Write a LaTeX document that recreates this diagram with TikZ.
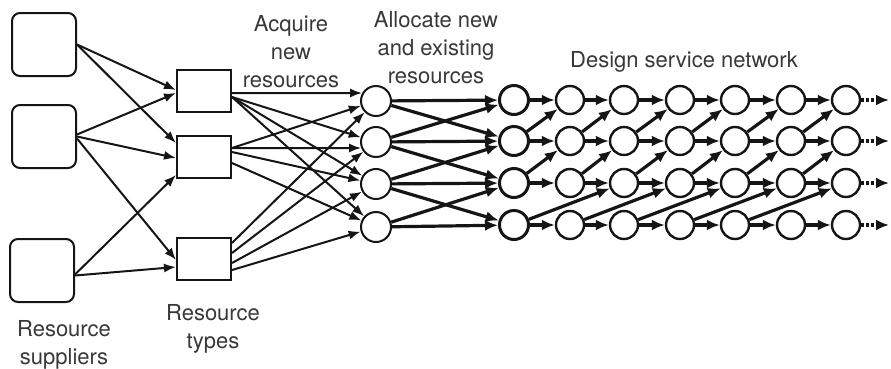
\documentclass[tikz,border=0pt]{standalone}
\usepackage{fontspec}
\setmainfont{TeX Gyre Heros}
\usetikzlibrary{arrows.meta,calc}
\definecolor{ink}{HTML}{151515}
\begin{document}
\begin{tikzpicture}[x=1pt,y=-1pt,
  sup/.style={draw=ink, rounded corners=8pt, minimum width=64pt, minimum height=63pt, line width=2pt, inner sep=0pt},
  typ/.style={draw=ink, minimum width=54pt, minimum height=42pt, line width=2pt, inner sep=0pt},
  acq/.style={circle, draw=ink, minimum size=30pt, line width=2pt, inner sep=0pt},
  alc/.style={circle, draw=ink, minimum size=29pt, line width=3pt, inner sep=0pt},
  dsn/.style={circle, draw=ink, minimum size=28pt, line width=2.4pt, inner sep=0pt},
  thinarr/.style={draw=ink, line width=2pt, -{Latex[length=12pt,width=9pt]}},
  thkarr/.style={draw=ink, line width=3.2pt, -{Latex[length=13pt,width=11pt]}},
  dotarr/.style={draw=ink, line width=3.2pt, dash pattern=on 2.5pt off 2.5pt, -{Latex[length=13pt,width=11pt]}},
  lbl/.style={font=\fontsize{22}{28}\selectfont, align=center, text=black!78, inner sep=0pt}
]
\useasboundingbox (0,0) rectangle (891,368);

% suppliers
\node[sup] (s1) at (44,44.5) {};
\node[sup] (s2) at (44,136.5) {};
\node[sup] (s3) at (42,270.5) {};
% types
\node[typ] (t1) at (204,91) {};
\node[typ] (t2) at (204,157) {};
\node[typ] (t3) at (204,259) {};
% acquire circles
\foreach \r/\y in {1/101,2/142,3/184,4/227} \node[acq] (q\r) at (376,\y) {};
% allocate circles
\foreach \r/\y in {1/100,2/141,3/183,4/225} \node[alc] (d2-\r) at (514,\y) {};
% design network circles
\foreach \c/\x in {3/570,4/624,5/680,6/735,7/791,8/846}
  \foreach \r/\y in {1/100,2/141,3/183,4/225} \node[dsn] (d\c-\r) at (\x,\y) {};
% free ends of the dotted arrows
\foreach \r/\y in {1/100,2/141,3/183,4/225} \coordinate (e\r) at (889,\y);

% suppliers -> types
\draw[thinarr] (s1.east) -- ($(t1.west)+(0,-1)$);
\draw[thinarr] (s1.east) -- ($(t2.west)+(0,-14)$);
\draw[thinarr] ($(s2.east)+(0,-2)$) -- ($(t1.west)+(0,2)$);
\draw[thinarr] (s2.east) -- ($(t2.west)+(0,1)$);
\draw[thinarr] ($(s2.east)+(0,2)$) -- ($(t3.west)+(0,1)$);
\draw[thinarr] ($(s3.east)+(0,4)$) -- ($(t2.south west)+(0,-4)$);
\draw[thinarr] ($(s3.east)+(0,5)$) -- ($(t3.west)+(0,8)$);

% types -> acquire
\draw[thinarr] ($(t1.east)+(0,2)$) -- (q1.150);
\draw[thinarr] ($(t1.east)+(0,6)$) -- (q2);
\draw[thinarr] ($(t1.east)+(0,6)$) -- (q3);
\draw[thinarr] ($(t1.east)+(0,6)$) -- (q4);
\draw[thinarr] ($(t2.east)+(0,-9)$) -- (q1);
\draw[thinarr] ($(t2.east)+(0,-9)$) -- (q2.202);
\draw[thinarr] ($(t2.east)+(0,-5)$) -- (q3);
\draw[thinarr] ($(t2.east)+(0,6)$) -- (q4);
\draw[thinarr] ($(t3.east)+(0,-16)$) -- (q1);
\draw[thinarr] ($(t3.east)+(0,-6)$) -- (q2);
\draw[thinarr] ($(t3.east)+(0,4)$) -- (q3);
\draw[thinarr] ($(t3.east)+(0,11)$) -- (q4);

% acquire -> allocate
\draw[thkarr] (q1) -- (d2-1);
\draw[thkarr] (q1) -- (d2-2);
\draw[thkarr] (q2) -- (d2-1);
\draw[thkarr] (q2) -- (d2-2);
\draw[thkarr] (q2) -- (d2-3);
\draw[thkarr] (q3) -- (d2-2);
\draw[thkarr] (q3) -- (d2-3);
\draw[thkarr] (q3) -- (d2-4);
\draw[thkarr] (q4) -- (d2-3);
\draw[thkarr] (q4) -- (d2-4);

% design service network
\foreach \c [evaluate=\c as \n using int(\c+1)] in {2,...,7} {
  \foreach \r in {1,...,4} \draw[thkarr] (d\c-\r) -- (d\n-\r);
  \draw[thkarr] (d\c-2) -- (d\n-1);
  \draw[thkarr] (d\c-3) -- (d\n-2);
}
\foreach \c [evaluate=\c as \m using int(\c+2)] in {2,...,6}
  \draw[thkarr] (d\c-4) -- (d\m-3);
\foreach \r in {1,...,4} \draw[dotarr] (d8-\r) -- (e\r);

% labels
\node[lbl] (l1) at (64,345) {Resource\\suppliers};
\node[lbl] (l2) at (213,329) {Resource\\types};
\node[lbl] (l3) at (291,52) {Acquire\\new\\resources};
\node[lbl] (l4) at (436,47.5) {Allocate new\\and existing\\resources};
\node[lbl] (l5) at (684,62) {Design service network};
\end{tikzpicture}
\end{document}
